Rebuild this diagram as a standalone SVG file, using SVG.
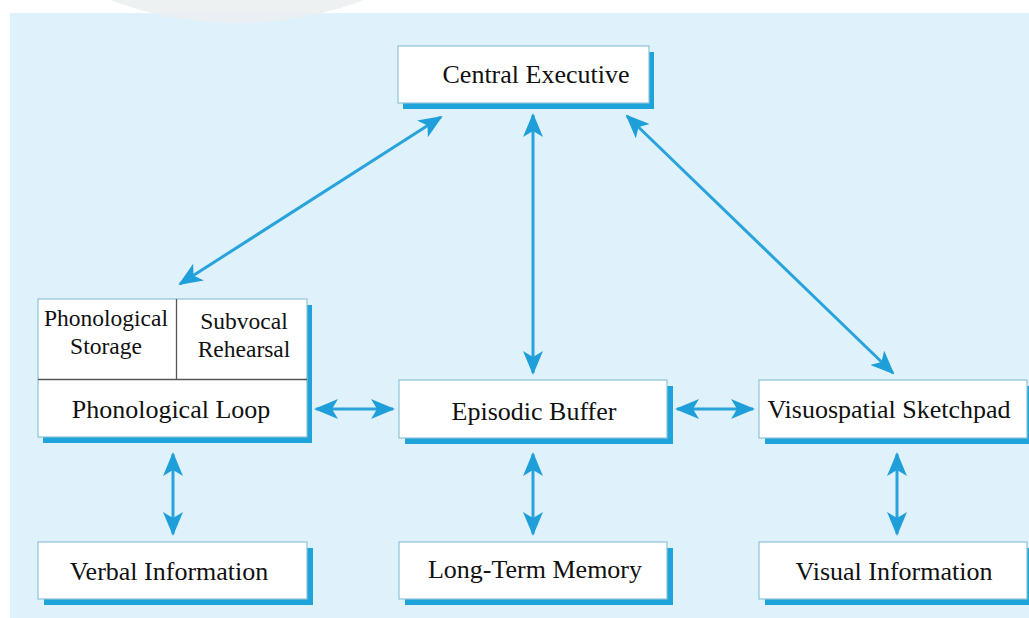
<svg xmlns="http://www.w3.org/2000/svg" width="1029" height="618" viewBox="0 0 1029 618">
<style>
.bx{fill:#ffffff;stroke:#8cc3d8;stroke-width:1.2}
.sh{fill:#1fa3db}
.t{font-family:"Liberation Serif","Times New Roman",serif;font-size:26px;fill:#111;text-anchor:middle}
.s{font-family:"Liberation Serif","Times New Roman",serif;font-size:23.5px;fill:#111;text-anchor:middle}
.c{stroke:#2aa3dc;stroke-width:3;fill:none;marker-start:url(#ah);marker-end:url(#ah)}
</style>
<defs>
<marker id="ah" markerUnits="userSpaceOnUse" markerWidth="24" markerHeight="20" viewBox="0 0 24 20" refX="22" refY="10" orient="auto-start-reverse">
<path d="M0,0 L24,10 L0,20 L6,10 z" fill="#1f9fda"/>
</marker>
</defs>
<rect x="0" y="0" width="1029" height="618" fill="#ffffff"/>
<rect x="10" y="13" width="1019" height="605" fill="#dff2fb"/>
<path d="M110,0 A360,360 0 0 0 364,0 Z" fill="#ebeef0" opacity="0.85"/>

<g id="connectors">
<line class="c" x1="441" y1="117" x2="180" y2="284"/>
<line class="c" x1="533" y1="115" x2="533" y2="373"/>
<line class="c" x1="627" y1="116" x2="893" y2="373"/>
<line class="c" x1="316" y1="409" x2="393" y2="409"/>
<line class="c" x1="677" y1="409" x2="753" y2="409"/>
<line class="c" x1="173" y1="454" x2="173" y2="534"/>
<line class="c" x1="533" y1="454" x2="533" y2="534"/>
<line class="c" x1="897" y1="454" x2="897" y2="534"/>
</g>

<g id="central-executive">
<rect class="sh" x="403" y="52" width="251" height="57"/>
<rect class="bx" x="398" y="46" width="251" height="57"/>
<text class="t" x="536" y="83">Central Executive</text>
</g>

<g id="phonological-loop">
<rect class="sh" x="43" y="305" width="269" height="138"/>
<rect class="bx" x="38" y="299" width="269" height="138"/>
<line x1="38" y1="379.5" x2="307" y2="379.5" stroke="#555" stroke-width="1.3"/>
<line x1="176.5" y1="299" x2="176.5" y2="379" stroke="#555" stroke-width="1.3"/>
<text class="s" x="106" y="326">Phonological</text>
<text class="s" x="106" y="354">Storage</text>
<text class="s" x="244" y="329">Subvocal</text>
<text class="s" x="244" y="357">Rehearsal</text>
<text class="t" x="171" y="418">Phonological Loop</text>
</g>

<g id="episodic-buffer">
<rect class="sh" x="405" y="386" width="268" height="58"/>
<rect class="bx" x="399" y="380" width="268" height="58"/>
<text class="t" x="534" y="420">Episodic Buffer</text>
</g>

<g id="visuospatial-sketchpad">
<rect class="sh" x="765" y="386" width="270" height="58"/>
<rect class="bx" x="759" y="380" width="268" height="58"/>
<text class="t" x="889" y="418">Visuospatial Sketchpad</text>
</g>

<g id="verbal-information">
<rect class="sh" x="44" y="548" width="269" height="57"/>
<rect class="bx" x="38" y="542" width="269" height="57"/>
<text class="t" x="169" y="580">Verbal Information</text>
</g>

<g id="long-term-memory">
<rect class="sh" x="405" y="548" width="268" height="57"/>
<rect class="bx" x="399" y="542" width="268" height="57"/>
<text class="t" x="535" y="578">Long-Term Memory</text>
</g>

<g id="visual-information">
<rect class="sh" x="765" y="548" width="270" height="57"/>
<rect class="bx" x="759" y="542" width="268" height="57"/>
<text class="t" x="894" y="580">Visual Information</text>
</g>
</svg>
